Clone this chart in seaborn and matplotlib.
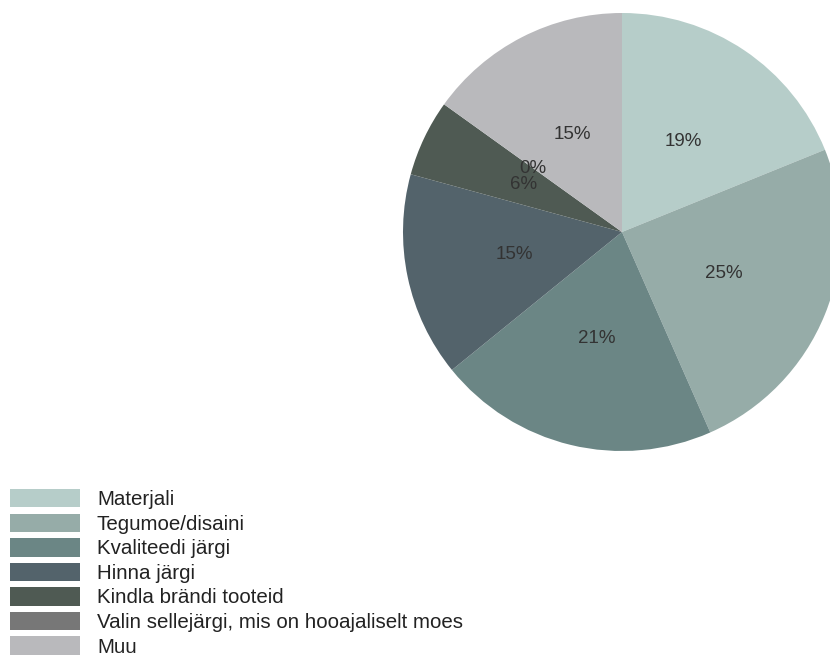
import matplotlib
matplotlib.use("Agg")
import matplotlib.pyplot as plt
from matplotlib.patches import Patch
import seaborn as sns

# Survey answers: how clothes are chosen (number of respondents)
categories = [
    "Materjali",
    "Tegumoe/disaini",
    "Kvaliteedi järgi",
    "Hinna järgi",
    "Kindla brändi tooteid",
    "Valin sellejärgi, mis on hooajaliselt moes",
    "Muu",
]
counts = [10, 13, 11, 8, 3, 0, 8]
slice_colors = ["#b6cdc9", "#96aca8", "#6b8685", "#53636b", "#4f5a53", "#777777", "#b9b9bc"]

sns.set_theme(style="white")
plt.rcParams["font.family"] = ["Liberation Sans", "DejaVu Sans"]
palette = sns.color_palette(slice_colors)

W, H = 830, 655
fig = plt.figure(figsize=(W / 100, H / 100), dpi=100)
fig.patch.set_facecolor("white")

# Pie occupies a square box; right side runs off the canvas
cx, cy, r = 622, 232, 219
ax = fig.add_axes([(cx - r) / W, 1 - (cy + r) / H, 2 * r / W, 2 * r / H])
wedges, _, autotexts = ax.pie(
    counts,
    colors=palette,
    startangle=90,
    counterclock=False,
    autopct="%1.0f%%",
    pctdistance=0.5,
    radius=1.0,
    wedgeprops=dict(linewidth=0),
    textprops=dict(fontsize=13.5, color="#333333"),
)
ax.set_xlim(-1, 1)
ax.set_ylim(-1, 1)
ax.set_aspect("equal")
ax.axis("off")

handles = [Patch(facecolor=c, edgecolor="none") for c in palette]
fig.legend(
    handles,
    categories,
    loc="upper left",
    bbox_to_anchor=(10 / W, 1 - 489 / H),
    frameon=False,
    fontsize=14.8,
    handlelength=3.4,
    handleheight=1.0,
    handletextpad=0.83,
    labelspacing=0.21,
    borderpad=0,
    borderaxespad=0,
    labelcolor="#222222",
)

fig.savefig("out.png", dpi=100, facecolor="white")
